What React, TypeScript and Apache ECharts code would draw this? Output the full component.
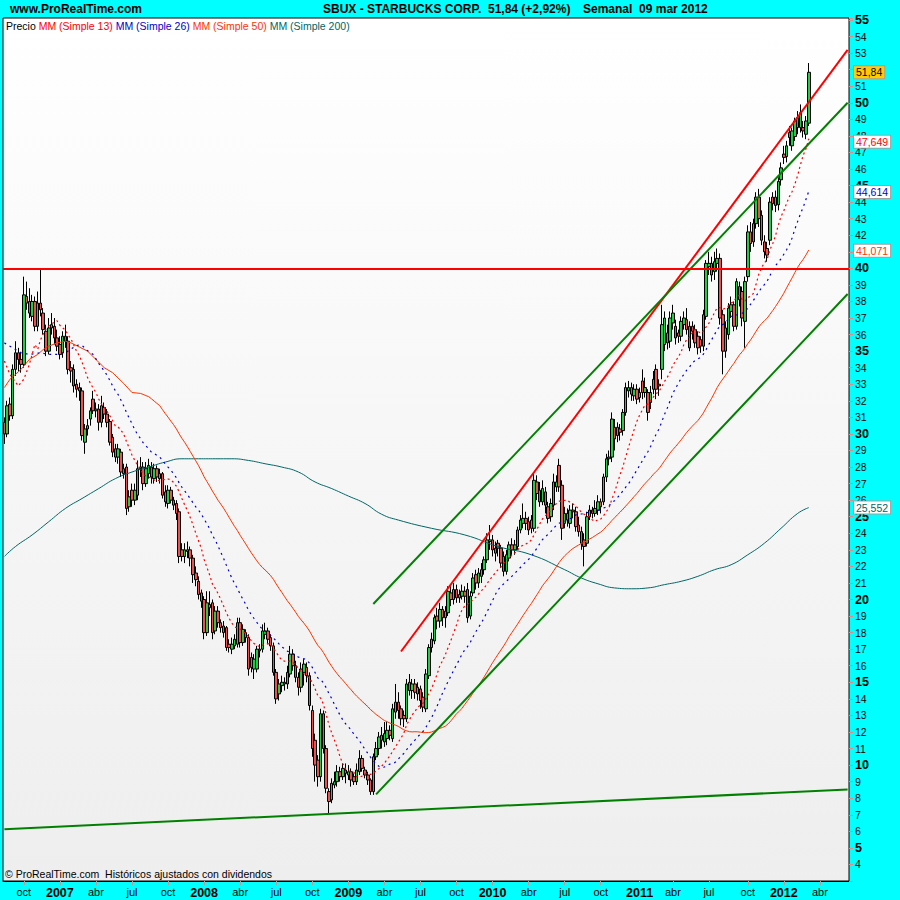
import React, { useEffect, useRef } from 'react';
import * as echarts from 'echarts';

// Weekly candles, first week ending 2006-08-18, last 2012-03-09
const firstWeekUTC = Date.UTC(2006, 7, 18);
const totalWeeks = 305; // category slots incl. empty weeks after the last candle

const opens = [
  30.7, 30.0, 31.8, 31.1, 33.9, 34.9, 34.5, 34.2, 38.3, 38.0,
  37.1, 38.0, 36.5, 37.9, 37.3, 36.2, 35.0, 36.4, 36.5, 35.8,
  35.4, 34.9, 35.9, 35.6, 34.0, 33.9, 33.0, 32.6, 32.6, 29.5,
  30.3, 30.9, 32.1, 31.4, 31.5, 30.7, 31.6, 31.2, 30.75, 29.8,
  29.1, 28.6, 28.9, 27.9, 28.0, 25.6, 26.6, 26.0, 26.3, 27.9,
  28.0, 27.0, 27.6, 28.0, 27.3, 27.9, 27.3, 27.6, 26.5, 25.8,
  26.6, 26.0, 25.8, 25.3, 23.0, 22.6, 22.9, 23.0, 22.5, 21.6,
  21.1, 20.4, 20.0, 18.0, 19.5, 19.8, 18.1, 19.3, 18.6, 18.4,
  18.3, 17.3, 17.0, 17.2, 17.3, 18.6, 17.4, 18.0, 17.7, 16.5,
  15.8, 15.8, 17.0, 17.0, 17.9, 18.1, 17.7, 17.2, 15.6, 14.3,
  14.8, 15.0, 14.9, 15.5, 16.7, 16.0, 15.3, 14.7, 15.6, 15.9,
  15.4, 13.3, 11.5, 10.3, 9.3, 13.1, 11.0, 8.4, 7.9, 8.8,
  9.0, 9.6, 9.3, 9.7, 9.4, 9.6, 9.3, 9.0, 9.6, 10.4,
  9.7, 9.4, 9.1, 8.4, 10.5, 11.0, 11.8, 11.4, 11.6, 12.1,
  11.6, 13.2, 13.8, 13.4, 13.0, 12.8, 15.0, 14.5, 14.9, 14.3,
  14.6, 14.1, 13.4, 15.4, 17.1, 17.5, 19.0, 18.7, 19.4, 18.9,
  19.2, 20.4, 20.0, 20.6, 20.1, 20.2, 20.5, 20.6, 19.0, 20.4,
  21.5, 21.0, 21.4, 21.8, 22.4, 23.5, 23.6, 23.1, 23.4, 23.1,
  22.6, 21.7, 22.5, 23.3, 23.0, 23.2, 24.2, 24.6, 24.9, 24.7,
  24.3, 24.3, 27.1, 26.6, 25.9, 26.5, 25.6, 25.0, 25.7, 26.8,
  28.1, 26.9, 24.6, 25.2, 24.6, 25.4, 25.3, 24.5, 24.1, 23.6,
  23.4, 25.0, 25.4, 25.2, 25.4, 25.9, 25.9, 27.4, 28.5, 28.6,
  30.4, 29.9, 30.3, 30.2, 31.3, 32.6, 32.8, 32.3, 32.7, 32.2,
  33.2, 32.5, 32.5, 31.9, 32.7, 33.9, 33.0, 33.9, 35.4, 36.1,
  35.6, 36.7, 36.5, 36.1, 35.9, 36.6, 36.9, 36.5, 36.5, 36.3,
  35.9, 35.7, 35.3, 37.1, 40.1, 40.3, 39.8, 40.3, 40.6, 37.2,
  35.0, 36.0, 37.4, 37.8, 36.5, 38.9, 38.6, 36.8, 39.5, 42.2,
  41.6, 42.7, 44.3, 43.2, 41.6, 41.2, 41.7, 44.3, 43.8, 43.84,
  45.35, 46.9, 46.75, 48.2, 47.4, 47.96, 49.1, 48.5, 48.5, 48.1,
  48.77,
];

const closes = [
  30.0, 31.7, 31.1, 33.9, 34.9, 34.5, 34.2, 38.4, 37.9, 37.3,
  38.0, 36.5, 37.9, 37.5, 36.3, 35.0, 36.4, 36.6, 35.8, 35.3,
  34.8, 35.9, 35.6, 33.9, 33.8, 32.9, 32.7, 32.8, 29.9, 30.3,
  30.5, 31.4, 31.4, 31.5, 30.7, 31.7, 31.2, 30.7, 29.5, 28.9,
  28.6, 29.1, 27.7, 27.6, 25.5, 26.2, 26.0, 26.6, 27.9, 28.0,
  27.0, 27.9, 28.1, 27.4, 27.9, 27.4, 27.6, 26.3, 25.9, 26.6,
  26.0, 25.7, 25.2, 22.6, 22.6, 23.0, 23.0, 22.5, 21.5, 21.2,
  20.3, 19.9, 18.0, 19.8, 19.7, 18.0, 19.3, 18.6, 18.3, 18.0,
  17.1, 17.1, 17.3, 17.6, 18.6, 17.4, 18.2, 17.7, 15.8, 15.9,
  16.4, 17.0, 16.9, 18.1, 18.1, 17.6, 17.2, 15.6, 14.0, 14.9,
  15.0, 14.9, 15.6, 16.7, 16.0, 15.3, 14.7, 15.8, 16.1, 15.4,
  13.6, 11.0, 10.0, 9.3, 13.1, 11.0, 8.6, 7.8, 8.9, 9.0,
  9.6, 9.3, 9.8, 9.5, 9.6, 9.1, 9.0, 9.7, 10.4, 9.8,
  9.4, 9.1, 8.4, 10.5, 11.0, 11.7, 11.5, 11.9, 12.1, 11.8,
  13.4, 13.8, 13.3, 12.8, 12.8, 14.9, 14.5, 14.9, 14.4, 14.7,
  13.9, 13.5, 15.5, 17.1, 17.6, 18.9, 18.7, 19.4, 18.9, 19.3,
  20.5, 20.0, 20.6, 20.1, 20.3, 20.5, 20.2, 18.9, 20.2, 21.3,
  21.0, 21.6, 21.8, 22.4, 23.6, 23.6, 23.0, 22.8, 23.1, 22.2,
  21.7, 22.7, 23.3, 23.0, 23.3, 24.2, 24.8, 24.9, 24.6, 24.2,
  24.8, 27.2, 26.4, 25.9, 26.7, 25.7, 24.9, 25.8, 27.1, 27.1,
  26.8, 24.3, 25.2, 24.8, 25.4, 25.3, 24.4, 24.1, 23.4, 23.2,
  25.0, 25.4, 25.2, 25.5, 25.9, 25.6, 27.4, 28.5, 28.6, 30.9,
  29.7, 30.4, 30.1, 31.3, 32.8, 32.8, 32.4, 32.7, 32.1, 32.5,
  32.5, 32.8, 31.3, 32.5, 33.3, 32.7, 32.9, 36.6, 37.0, 35.5,
  37.0, 37.3, 35.8, 35.9, 36.8, 37.0, 36.3, 35.2, 36.2, 35.5,
  35.2, 35.3, 37.2, 40.3, 40.3, 39.6, 40.4, 40.6, 37.0, 35.0,
  36.4, 37.6, 37.8, 36.5, 39.2, 38.1, 37.0, 39.2, 42.2, 41.5,
  42.7, 44.3, 43.0, 41.7, 41.0, 40.8, 44.0, 43.9, 44.3, 45.25,
  46.07, 46.7, 47.4, 47.9, 48.3, 48.9, 48.5, 49.4, 48.3, 48.9,
  51.84,
];

const lows = [
  29.4, 29.8, 30.8, 30.9, 33.5, 33.8, 33.7, 34.0, 37.5, 37.0,
  36.8, 36.2, 36.2, 37.1, 36.0, 34.7, 34.8, 36.0, 35.4, 35.0,
  34.5, 34.6, 35.2, 33.6, 33.1, 32.5, 32.2, 32.0, 29.6, 28.8,
  29.9, 30.5, 31.2, 31.0, 30.2, 30.4, 30.9, 30.4, 29.3, 28.6,
  28.3, 28.2, 27.4, 27.3, 25.1, 25.3, 25.6, 25.7, 26.0, 27.4,
  26.6, 26.8, 27.3, 27.0, 27.0, 27.1, 27.0, 26.1, 25.6, 25.5,
  25.8, 25.4, 24.8, 22.2, 22.3, 22.2, 22.5, 22.0, 21.0, 20.8,
  20.0, 19.5, 17.6, 17.8, 19.0, 17.6, 17.9, 18.3, 18.0, 17.7,
  16.9, 16.8, 16.7, 17.0, 17.1, 17.1, 17.2, 17.4, 15.4, 15.6,
  15.2, 15.6, 16.5, 16.8, 17.6, 17.3, 16.9, 15.4, 13.7, 13.9,
  14.4, 14.5, 14.6, 15.3, 15.7, 15.0, 14.2, 14.4, 14.8, 15.0,
  13.3, 10.5, 9.0, 8.7, 9.0, 10.7, 8.3, 7.06, 7.7, 8.6,
  8.7, 9.0, 9.1, 8.9, 9.1, 8.7, 8.8, 8.8, 9.4, 9.6,
  9.2, 8.8, 8.2, 8.2, 10.3, 10.6, 11.0, 11.1, 11.2, 11.5,
  11.4, 12.8, 12.8, 12.4, 12.3, 12.6, 14.2, 14.0, 14.0, 13.9,
  13.4, 13.2, 13.2, 15.2, 16.8, 17.3, 18.2, 18.3, 18.4, 18.3,
  19.0, 19.6, 19.7, 19.8, 19.8, 20.0, 19.8, 18.6, 18.8, 20.2,
  20.6, 20.7, 21.0, 21.5, 22.2, 23.0, 22.6, 22.3, 22.6, 21.9,
  21.4, 21.5, 22.3, 22.7, 22.7, 23.0, 24.0, 24.3, 24.2, 23.9,
  24.0, 24.1, 26.0, 25.6, 25.7, 25.2, 24.6, 24.7, 25.4, 26.5,
  26.5, 23.6, 24.3, 24.4, 24.3, 24.9, 24.1, 23.8, 23.0, 22.0,
  23.2, 24.8, 24.9, 25.0, 25.1, 25.2, 25.7, 27.1, 28.1, 28.3,
  29.0, 29.5, 29.6, 29.9, 31.1, 32.2, 32.0, 32.0, 31.8, 31.9,
  32.1, 32.2, 30.8, 31.5, 32.4, 32.1, 32.3, 33.3, 35.0, 35.1,
  35.2, 36.3, 35.4, 35.5, 35.6, 36.3, 36.0, 35.0, 35.7, 35.2,
  34.8, 34.9, 35.0, 36.9, 39.6, 39.2, 39.3, 39.8, 36.6, 33.6,
  34.6, 35.7, 37.0, 36.2, 36.3, 37.7, 36.5, 35.2, 39.2, 41.0,
  41.3, 42.4, 42.5, 41.4, 40.6, 40.4, 41.4, 43.5, 43.4, 43.5,
  45.0, 46.3, 46.4, 47.4, 47.1, 47.7, 48.1, 48.2, 47.9, 47.8,
  48.6,
];

const highs = [
  31.0, 32.0, 32.2, 34.2, 35.6, 35.2, 34.9, 39.5, 39.2, 38.8,
  38.4, 38.3, 38.6, 40.0, 37.6, 36.6, 37.0, 37.3, 37.0, 36.3,
  35.9, 36.2, 36.6, 35.9, 34.4, 34.2, 33.3, 33.1, 32.8, 30.6,
  30.9, 31.6, 32.6, 31.9, 31.8, 32.3, 31.9, 31.5, 30.9, 30.0,
  29.4, 29.4, 29.1, 28.2, 28.2, 26.6, 27.0, 27.0, 28.4, 28.6,
  28.3, 28.3, 28.5, 28.3, 28.2, 28.1, 27.9, 27.7, 26.9, 26.9,
  26.8, 26.2, 26.0, 25.5, 23.4, 23.4, 23.5, 23.2, 22.7, 22.0,
  21.4, 20.6, 20.2, 20.5, 20.5, 20.0, 19.6, 19.6, 18.8, 18.7,
  18.4, 17.6, 17.7, 17.9, 18.9, 18.9, 18.5, 18.2, 17.9, 16.8,
  16.7, 17.2, 17.3, 18.5, 18.6, 18.3, 17.9, 17.4, 15.8, 15.2,
  15.4, 15.3, 16.0, 17.2, 17.0, 16.3, 15.6, 16.2, 16.4, 16.2,
  15.6, 13.6, 11.9, 10.6, 13.4, 13.3, 11.2, 8.6, 9.2, 9.6,
  10.0, 9.9, 10.1, 10.1, 10.0, 9.8, 9.5, 10.1, 10.9, 10.6,
  9.9, 9.6, 9.2, 10.7, 11.4, 12.0, 12.3, 12.6, 12.6, 12.4,
  13.7, 14.9, 14.4, 13.6, 13.3, 15.2, 15.5, 15.2, 15.2, 15.0,
  14.8, 14.4, 15.8, 17.3, 18.0, 19.1, 19.5, 19.8, 19.6, 19.6,
  20.8, 20.8, 21.0, 20.9, 20.6, 20.9, 20.8, 21.0, 20.5, 21.6,
  21.8, 21.9, 22.2, 22.6, 24.0, 24.5, 23.9, 23.5, 23.6, 23.3,
  22.9, 23.0, 23.5, 23.7, 23.6, 24.4, 25.1, 25.8, 25.3, 25.0,
  25.1, 27.7, 27.5, 27.1, 27.2, 26.8, 25.9, 26.1, 27.6, 27.5,
  28.5, 27.2, 25.6, 25.5, 25.7, 25.8, 25.6, 25.0, 24.4, 24.0,
  25.3, 25.7, 25.6, 26.0, 26.3, 26.1, 27.6, 28.8, 29.0, 31.3,
  30.9, 30.7, 30.6, 31.5, 33.1, 33.2, 33.1, 33.0, 33.0, 32.8,
  33.9, 33.4, 32.7, 32.9, 33.8, 34.2, 33.3, 37.8, 37.4, 36.6,
  37.4, 37.8, 36.9, 36.3, 37.1, 37.4, 37.6, 36.8, 36.8, 36.6,
  36.2, 35.9, 37.5, 40.5, 41.0, 40.7, 41.0, 41.2, 40.9, 37.5,
  36.8, 37.9, 38.3, 38.0, 39.4, 39.2, 38.9, 39.5, 42.6, 42.8,
  43.0, 44.6, 44.8, 43.5, 42.0, 41.6, 44.3, 44.6, 44.7, 45.5,
  46.4, 47.4, 47.7, 48.6, 48.5, 49.1, 49.5, 49.9, 48.9, 49.2,
  52.4,
];

const ma13Lead = [[0, 34.4], [2, 33.6], [5, 32.9], [7, 33.3], [9, 34.2], [11, 35.4]];
const ma26Lead = [[0, 35.5], [3, 35.2], [6, 34.9], [9, 34.8], [13, 34.9], [16, 34.8], [19, 34.8], [22, 34.9]];
const ma50Lead = [
  [0, 32.8], [2, 33.3], [6, 33.9], [9, 34.5], [12, 34.8], [14, 35.1], [16, 35.3], [19, 35.5],
  [22, 35.6], [24, 35.5], [27, 35.25], [30, 35.0], [33, 34.5], [36, 34.0], [39, 33.7], [43, 33.05], [46, 32.5],
];
const ma200Points = [
  [0, 22.6], [4, 23.2], [10, 23.9], [16, 24.7], [22, 25.5], [28, 26.1], [34, 26.7], [40, 27.3],
  [46, 27.7], [52, 28.0], [58, 28.3], [64, 28.5], [70, 28.5], [76, 28.5], [82, 28.5], [88, 28.4],
  [94, 28.2], [100, 28.0], [106, 27.7], [112, 27.1], [118, 26.7], [124, 26.25], [130, 25.8],
  [136, 25.15], [142, 24.8], [154, 24.3], [166, 23.9], [178, 23.2], [190, 22.7], [202, 21.8],
  [208, 21.3], [214, 20.95], [220, 20.7], [226, 20.65], [232, 20.7], [238, 20.9], [244, 21.1],
  [250, 21.4], [256, 21.8], [262, 22.1], [268, 22.7], [274, 23.4], [280, 24.3], [286, 25.2], [290, 25.55],
];

// Drawn lines (week index, price)
const trendRed = [[143, 16.86], [304, 53.2]];
const channelUpper = [[133, 19.73], [304, 50.0]];
const channelLower = [[134, 8.23], [304, 38.45]];
const supportLong = [[0, 6.13], [304, 8.53]];
const resistanceLevel = 40;

// Last-value tags on the price axis
const tagValues = [51.84, 47.649, 44.614, 41.071, 25.552];
const tagTexts = ['51,84', '47,649', '44,614', '41,071', '25,552'];
const tagColors = ['#000000', '#ff0000', '#0000cc', '#ff3300', '#006666'];
const tagFills = ['#ffcc00', '#ffffff', '#ffffff', '#ffffff', '#ffffff'];
// price-axis labels that sit completely behind a tag in the reference
const hiddenAxisLabels = [52, 41];

const monthNames: Record<number, string> = { 4: 'abr', 7: 'jul', 10: 'oct' };

const FONT = 'Liberation Sans';

function buildDates(): string[] {
  const out: string[] = [];
  for (let i = 0; i < totalWeeks; i++) {
    const d = new Date(firstWeekUTC + i * 7 * 86400000);
    out.push(d.toISOString().slice(0, 10));
  }
  return out;
}

function sma(n: number): number[][] {
  const out: number[][] = [];
  for (let i = n - 1; i < closes.length; i++) {
    let s = 0;
    for (let k = i - n + 1; k <= i; k++) s += closes[k];
    out.push([i, +(s / n).toFixed(3)]);
  }
  return out;
}

export default function App() {
  const ref = useRef<HTMLDivElement>(null);

  useEffect(() => {
    if (!ref.current) return;
    const chart = echarts.init(ref.current, undefined, { renderer: 'svg' });

    const dates = buildDates();
    const month = (i: number) => +dates[i].slice(5, 7);
    const isQuarterStart = (i: number) => {
      if (i <= 0) return false;
      const m = month(i);
      if (![1, 4, 7, 10].includes(m)) return false;
      return month(i - 1) !== m;
    };

    const candles = opens.map((o, i) => [o, closes[i], lows[i], highs[i]]);

    const lineSeries = (name: string, data: number[][], color: string, width: number, type: any, z: number, smooth = false) => ({
      name,
      type: 'line',
      data,
      showSymbol: false,
      symbol: 'none',
      smooth,
      silent: true,
      z,
      lineStyle: { color, width, type },
    });

    const option: any = {
      animation: false,
      backgroundColor: '#00ffff',
      grid: {
        left: 3,
        top: 18,
        right: 51,
        bottom: 19,
        show: true,
        borderColor: '#000000',
        borderWidth: 1,
        backgroundColor: new echarts.graphic.LinearGradient(0, 0, 0, 1, [
          { offset: 0, color: '#ffffff' },
          { offset: 1, color: '#eeeeee' },
        ]),
      },
      xAxis: {
        type: 'category',
        data: dates,
        boundaryGap: true,
        axisLine: { show: true, lineStyle: { color: '#000000' } },
        axisTick: {
          show: true,
          alignWithLabel: true,
          interval: (i: number) => isQuarterStart(i),
          length: 4,
          lineStyle: { color: '#d09090' },
        },
        axisLabel: {
          interval: (i: number) => isQuarterStart(i),
          margin: 5,
          color: '#000000',
          fontSize: 11,
          fontFamily: FONT,
          formatter: (v: string) => {
            const m = +v.slice(5, 7);
            if (m === 1) return '{y|' + v.slice(0, 4) + '}';
            return monthNames[m] || '';
          },
          rich: { y: { fontWeight: 'bold', fontSize: 12.5, fontFamily: FONT, color: '#000000' } },
        },
        splitLine: { show: false },
      },
      yAxis: {
        type: 'value',
        position: 'right',
        min: 3,
        max: 55.12,
        interval: 1,
        scale: true,
        axisLine: { show: false },
        axisTick: { show: true, length: 4, lineStyle: { color: '#d09090' } },
        splitLine: { show: false },
        axisLabel: {
          margin: 6,
          color: '#000000',
          fontSize: 10.5,
          fontFamily: FONT,
          formatter: (v: number) => {
            const r = Math.round(v);
            if (Math.abs(v - r) > 1e-6 || r < 4) return '';
            if (hiddenAxisLabels.includes(r)) return '';
            return r % 5 === 0 ? '{b|' + r + '}' : String(r);
          },
          rich: { b: { fontWeight: 'bold', fontSize: 12.5, fontFamily: FONT, color: '#000000' } },
        },
      },
      graphic: [
        { type: 'text', x: 10, y: 9, z: 100, style: { text: 'www.ProRealTime.com', fontSize: 12, fontWeight: 'bold', fontFamily: FONT, fill: '#000000', verticalAlign: 'middle' } },
        { type: 'text', x: 323, y: 9, z: 100, style: { text: 'SBUX - STARBUCKS CORP.', fontSize: 12, fontWeight: 'bold', fontFamily: FONT, fill: '#000000', verticalAlign: 'middle' } },
        { type: 'text', x: 488, y: 9, z: 100, style: { text: '51,84 (+2,92%)', fontSize: 12, fontWeight: 'bold', fontFamily: FONT, fill: '#000000', verticalAlign: 'middle' } },
        { type: 'text', x: 583, y: 9, z: 100, style: { text: 'Semanal  09 mar 2012', fontSize: 12, fontWeight: 'bold', fontFamily: FONT, fill: '#000000', verticalAlign: 'middle' } },
        {
          type: 'text', x: 6, y: 26, z: 100,
          style: {
            text: '{a|Precio} {b|MM (Simple 13)} {c|MM (Simple 26)} {d|MM (Simple 50)} {e|MM (Simple 200)}',
            fontSize: 10.5, fontFamily: FONT, verticalAlign: 'middle', fill: '#000000',
            rich: {
              a: { fill: '#000000', fontSize: 10.5, fontFamily: FONT },
              b: { fill: '#ff0000', fontSize: 10.5, fontFamily: FONT },
              c: { fill: '#0000cc', fontSize: 10.5, fontFamily: FONT },
              d: { fill: '#ff3300', fontSize: 10.5, fontFamily: FONT },
              e: { fill: '#006666', fontSize: 10.5, fontFamily: FONT },
            },
          },
        },
        { type: 'text', x: 5, y: 874, z: 100, style: { text: '© ProRealTime.com  Históricos ajustados con dividendos', fontSize: 10.5, fontFamily: FONT, fill: '#000000', verticalAlign: 'middle' } },
      ],
      series: [
        {
          name: 'Precio',
          type: 'candlestick',
          data: candles,
          barWidth: 3,
          z: 2,
          silent: true,
          itemStyle: {
            color: '#22cc44',
            color0: '#ee5050',
            borderColor: '#000000',
            borderColor0: '#000000',
            borderColorDoji: '#000000',
            borderWidth: 1,
          },
          markLine: {
            silent: true,
            symbol: ['none', 'none'],
            animation: false,
            z: 6,
            data: [
              { yAxis: resistanceLevel, lineStyle: { color: '#ff0000', width: 2, type: 'solid' }, label: { show: false } },
              ...tagValues.map((v, k) => ({
                yAxis: v,
                lineStyle: { color: 'rgba(0,0,0,0)', width: 1, type: 'solid' },
                label: {
                  show: true,
                  position: 'end',
                  distance: 5,
                  formatter: tagTexts[k],
                  color: tagColors[k],
                  backgroundColor: tagFills[k],
                  borderColor: '#a0a0a0',
                  borderWidth: 1,
                  padding: [1, 2, 0, 2],
                  fontSize: 10.5,
                  fontFamily: FONT,
                },
              })),
            ],
          },
        },
        lineSeries('MM200', ma200Points, '#006666', 1, 'solid', 3, true),
        lineSeries('MM50', [...ma50Lead, ...sma(50)], '#ff3300', 1, 'solid', 3),
        lineSeries('MM26', [...ma26Lead, ...sma(26)], '#0000cc', 1.2, [2, 4], 3),
        lineSeries('MM13', [...ma13Lead, ...sma(13)], '#ff0000', 1.2, [2, 3], 3),
        lineSeries('trendRed', trendRed, '#ff0000', 2, 'solid', 4),
        lineSeries('channelUpper', channelUpper, '#008000', 2, 'solid', 4),
        lineSeries('channelLower', channelLower, '#008000', 2, 'solid', 4),
        lineSeries('supportLong', supportLong, '#008000', 2, 'solid', 4),
      ],
    };

    chart.setOption(option);
    return () => chart.dispose();
  }, []);

  return <div ref={ref} style={{ position: 'fixed', left: 0, top: 0, width: 900, height: 900 }} />;
}
